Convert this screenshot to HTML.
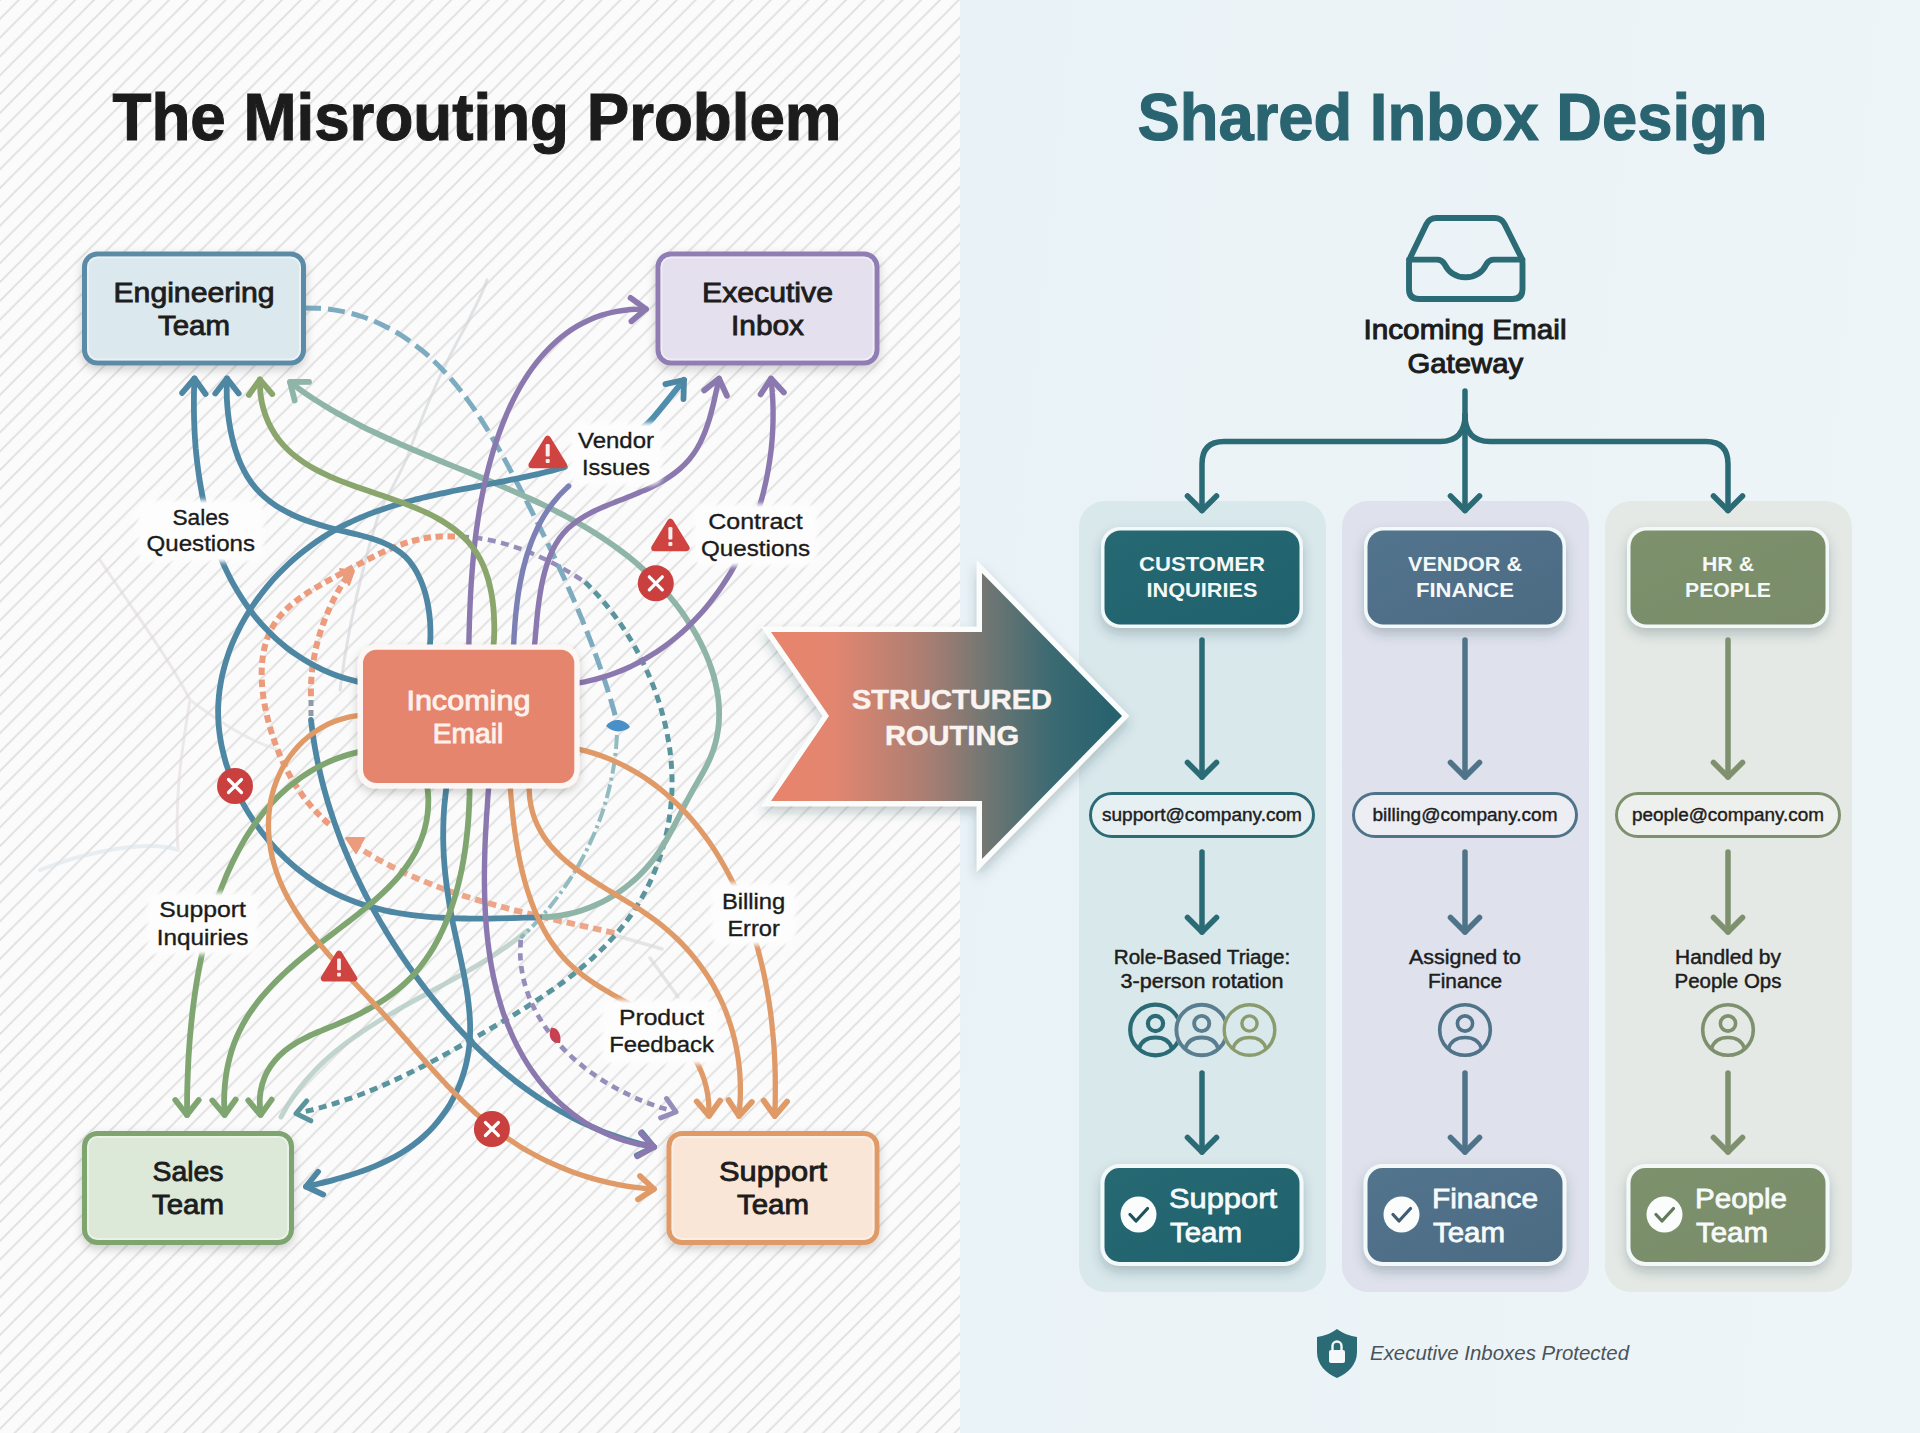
<!DOCTYPE html>
<html lang="en"><head><meta charset="utf-8"><title>Shared Inbox Design</title>
<style>html,body{margin:0;padding:0;background:#fafafa;}body{width:1920px;height:1433px;overflow:hidden;}svg{display:block;}</style>
</head><body>
<svg width="1920" height="1433" viewBox="0 0 1920 1433" font-family="'Liberation Sans', Arial, sans-serif">

<defs>
<pattern id="hatch" width="18.8" height="18.8" patternUnits="userSpaceOnUse">
  <rect width="18.8" height="18.8" fill="#fbfbfb"/>
  <path d="M-2,20.8 L20.8,-2 M-2,2 L2,-2 M16.8,20.8 L20.8,16.8" stroke="#e0e0e0" stroke-width="1.9" fill="none"/>
</pattern>
<linearGradient id="rbg" x1="0" y1="0" x2="1" y2="0.15">
  <stop offset="0" stop-color="#e9f2f6"/><stop offset="0.6" stop-color="#ebf3f7"/><stop offset="1" stop-color="#eef5f8"/>
</linearGradient>
<linearGradient id="arrowg" x1="771" y1="0" x2="1122" y2="0" gradientUnits="userSpaceOnUse">
  <stop offset="0" stop-color="#e8846c"/><stop offset="0.18" stop-color="#e28670"/><stop offset="0.45" stop-color="#a87e72"/><stop offset="0.62" stop-color="#6f7673"/><stop offset="0.8" stop-color="#3b6a72"/><stop offset="1" stop-color="#25616e"/>
</linearGradient>
<linearGradient id="tealg" x1="0" y1="0" x2="1" y2="1"><stop offset="0" stop-color="#266973"/><stop offset="1" stop-color="#1f616c"/></linearGradient>
<linearGradient id="slateg" x1="0" y1="0" x2="1" y2="1"><stop offset="0" stop-color="#52748c"/><stop offset="1" stop-color="#4b6b83"/></linearGradient>
<linearGradient id="oliveg" x1="0" y1="0" x2="1" y2="1"><stop offset="0" stop-color="#7d916d"/><stop offset="1" stop-color="#7a8c69"/></linearGradient>
<filter id="sh" x="-20%" y="-20%" width="140%" height="150%"><feDropShadow dx="0" dy="6" stdDeviation="6" flood-color="#1b3b4a" flood-opacity="0.25"/></filter>
<filter id="sh2" x="-20%" y="-20%" width="140%" height="150%"><feDropShadow dx="0" dy="4" stdDeviation="5" flood-color="#000" flood-opacity="0.18"/></filter>
<filter id="blur3"><feGaussianBlur stdDeviation="3"/></filter>
<filter id="blur2" x="-20%" y="-20%" width="140%" height="140%"><feGaussianBlur stdDeviation="2.2"/></filter>
<filter id="blur1"><feGaussianBlur stdDeviation="0.6"/></filter>
<marker id="mG2" markerUnits="userSpaceOnUse" markerWidth="45" markerHeight="45" refX="0" refY="0" orient="auto" overflow="visible" viewBox="-22.5 -22.5 45 45"><path d="M-15,-11.70 L0,0 L-15,11.70" fill="none" stroke="#8aa66c" stroke-width="5.8" stroke-linecap="round" stroke-linejoin="round"/></marker><marker id="mB" markerUnits="userSpaceOnUse" markerWidth="45" markerHeight="45" refX="0" refY="0" orient="auto" overflow="visible" viewBox="-22.5 -22.5 45 45"><path d="M-15,-11.70 L0,0 L-15,11.70" fill="none" stroke="#4e87a3" stroke-width="5.8" stroke-linecap="round" stroke-linejoin="round"/></marker><marker id="mP" markerUnits="userSpaceOnUse" markerWidth="45" markerHeight="45" refX="0" refY="0" orient="auto" overflow="visible" viewBox="-22.5 -22.5 45 45"><path d="M-15,-11.70 L0,0 L-15,11.70" fill="none" stroke="#8b78ae" stroke-width="5.8" stroke-linecap="round" stroke-linejoin="round"/></marker><marker id="mG" markerUnits="userSpaceOnUse" markerWidth="45" markerHeight="45" refX="0" refY="0" orient="auto" overflow="visible" viewBox="-22.5 -22.5 45 45"><path d="M-15,-11.70 L0,0 L-15,11.70" fill="none" stroke="#7fa670" stroke-width="5.8" stroke-linecap="round" stroke-linejoin="round"/></marker><marker id="mO" markerUnits="userSpaceOnUse" markerWidth="45" markerHeight="45" refX="0" refY="0" orient="auto" overflow="visible" viewBox="-22.5 -22.5 45 45"><path d="M-15,-11.70 L0,0 L-15,11.70" fill="none" stroke="#e09a68" stroke-width="5.8" stroke-linecap="round" stroke-linejoin="round"/></marker><marker id="mS" markerUnits="userSpaceOnUse" markerWidth="45" markerHeight="45" refX="0" refY="0" orient="auto" overflow="visible" viewBox="-22.5 -22.5 45 45"><path d="M-15,-11.70 L0,0 L-15,11.70" fill="none" stroke="#8fb5a8" stroke-width="5.8" stroke-linecap="round" stroke-linejoin="round"/></marker>
<marker id="mDT" markerUnits="userSpaceOnUse" markerWidth="39" markerHeight="39" refX="0" refY="0" orient="auto" overflow="visible" viewBox="-19.5 -19.5 39 39"><path d="M-13,-10.14 L0,0 L-13,10.14" fill="none" stroke="#5a959e" stroke-width="5" stroke-linecap="round" stroke-linejoin="round"/></marker><marker id="mDP" markerUnits="userSpaceOnUse" markerWidth="39" markerHeight="39" refX="0" refY="0" orient="auto" overflow="visible" viewBox="-19.5 -19.5 39 39"><path d="M-13,-10.14 L0,0 L-13,10.14" fill="none" stroke="#978dbb" stroke-width="5" stroke-linecap="round" stroke-linejoin="round"/></marker><marker id="mDO" markerUnits="userSpaceOnUse" markerWidth="27" markerHeight="27" refX="0" refY="0" orient="auto" overflow="visible" viewBox="-13.5 -13.5 27 27"><path d="M-9,-7.02 L0,0 L-9,7.02" fill="none" stroke="#ec9c7c" stroke-width="4" stroke-linecap="round" stroke-linejoin="round"/></marker>
<marker id="mT" markerUnits="userSpaceOnUse" markerWidth="43.5" markerHeight="43.5" refX="0" refY="0" orient="auto" overflow="visible" viewBox="-21.75 -21.75 43.5 43.5"><path d="M-14.5,-14.50 L0,0 L-14.5,14.50" fill="none" stroke="#2b6b76" stroke-width="5.6" stroke-linecap="round" stroke-linejoin="round"/></marker><marker id="mSL" markerUnits="userSpaceOnUse" markerWidth="43.5" markerHeight="43.5" refX="0" refY="0" orient="auto" overflow="visible" viewBox="-21.75 -21.75 43.5 43.5"><path d="M-14.5,-14.50 L0,0 L-14.5,14.50" fill="none" stroke="#4f7389" stroke-width="5.6" stroke-linecap="round" stroke-linejoin="round"/></marker><marker id="mOL" markerUnits="userSpaceOnUse" markerWidth="43.5" markerHeight="43.5" refX="0" refY="0" orient="auto" overflow="visible" viewBox="-21.75 -21.75 43.5 43.5"><path d="M-14.5,-14.50 L0,0 L-14.5,14.50" fill="none" stroke="#7e906e" stroke-width="5.6" stroke-linecap="round" stroke-linejoin="round"/></marker>
</defs>
<rect x="0" y="0" width="960" height="1433" fill="url(#hatch)"/>
<rect x="960" y="0" width="960" height="1433" fill="url(#rbg)"/>
<text x="477" y="140" font-size="66" font-weight="bold" fill="#1c1c1c" text-anchor="middle" textLength="729" lengthAdjust="spacingAndGlyphs"  style="stroke:#1c1c1c;stroke-width:1.1px">The Misrouting Problem</text>
<text x="1452.5" y="140" font-size="66" font-weight="bold" fill="#2a6470" text-anchor="middle" textLength="630" lengthAdjust="spacingAndGlyphs"  style="stroke:#2a6470;stroke-width:1.1px">Shared Inbox Design</text>
<g id="curves">
<g opacity="0.6" fill="none" stroke-linecap="round">
<path d="M487,280 C480,300 472,312 468,322 C455,345 445,365 436,385 C425,410 415,435 407,458 C397,480 388,495 380,510 C374,530 369,545 365,562 C355,600 345,650 340,690" stroke="#cfd3d7" stroke-width="3"/>
<path d="M100,560 C140,620 170,660 190,700 C180,760 175,800 178,850" stroke="#e3dcdc" stroke-width="3"/>
<path d="M40,870 C90,850 150,840 178,850" stroke="#dbe4ea" stroke-width="4"/>
<path d="M190,700 C230,730 260,745 280,750" stroke="#e4e0e0" stroke-width="3"/>
<path d="M614,935 L662,949 M650,958 L678,997" stroke="#d3d7da" stroke-width="3.5"/>
</g>
<path d="M527.0,931.0 C525.2,932.5 519.7,936.9 515.9,939.7 C512.2,942.5 508.4,945.3 504.5,948.0 C500.6,950.7 496.7,953.3 492.7,955.8 C488.8,958.4 484.8,960.9 480.7,963.4 C476.7,965.8 472.6,968.2 468.4,970.6 C464.3,973.0 460.2,975.4 456.0,977.7 C451.9,980.0 447.7,982.3 443.5,984.6 C439.3,986.9 435.1,989.2 430.9,991.5 C426.7,993.8 422.5,996.0 418.4,998.3 C414.2,1000.6 410.0,1002.9 405.8,1005.2 C401.7,1007.6 397.6,1009.9 393.5,1012.3 C389.4,1014.7 385.3,1017.1 381.2,1019.5 C377.2,1022.0 373.2,1024.5 369.3,1027.0 C365.3,1029.6 361.4,1032.2 357.6,1034.9 C353.7,1037.5 349.9,1040.3 346.2,1043.1 C342.5,1045.9 338.8,1048.8 335.2,1051.7 C331.7,1054.7 328.2,1057.8 324.7,1060.9 C321.3,1064.1 318.0,1067.3 314.7,1070.7 C311.5,1074.1 308.4,1077.5 305.3,1081.1 C302.3,1084.7 299.3,1088.4 296.5,1092.3 C293.7,1096.1 291.0,1100.1 288.4,1104.2 C285.8,1108.3 282.2,1114.9 281.0,1117.0" fill="none" stroke="#b3cbc3" stroke-width="5" stroke-linecap="round" stroke-linejoin="round" opacity="0.8" />
<path d="M455.0,536.5 C452.5,536.5 445.0,536.2 440.1,536.4 C435.3,536.7 430.6,537.2 425.9,538.0 C421.3,538.8 416.8,539.8 412.3,541.1 C407.8,542.3 403.4,543.8 399.0,545.4 C394.7,547.0 390.4,548.8 386.1,550.7 C381.8,552.5 377.5,554.6 373.3,556.7 C369.0,558.8 364.8,561.1 360.5,563.3 C356.2,565.6 351.9,567.9 347.6,570.2 C343.2,572.5 338.8,574.9 334.5,577.2 C330.1,579.6 325.7,582.0 321.4,584.5 C317.1,586.9 312.8,589.4 308.7,592.1 C304.7,594.7 300.7,597.4 296.9,600.3 C293.2,603.2 289.6,606.1 286.4,609.3 C283.1,612.5 280.0,615.8 277.4,619.4 C274.8,623.0 272.4,626.7 270.5,630.7 C268.5,634.7 266.9,638.9 265.7,643.2 C264.4,647.5 263.5,652.1 262.8,656.7 C262.2,661.3 261.8,666.1 261.7,670.9 C261.6,675.7 261.8,680.7 262.1,685.6 C262.5,690.5 263.1,695.6 263.9,700.5 C264.7,705.5 265.8,710.5 266.9,715.4 C268.0,720.4 269.4,725.3 270.8,730.1 C272.3,734.9 273.8,739.6 275.5,744.2 C277.2,748.8 279.0,753.3 280.9,757.7 C282.8,762.1 284.9,766.4 287.1,770.6 C289.3,774.7 291.6,778.8 294.0,782.8 C296.5,786.8 299.1,790.7 301.9,794.5 C304.6,798.3 307.5,802.0 310.6,805.6 C313.7,809.2 316.9,812.7 320.3,816.1 C323.7,819.5 329.2,824.3 331.0,826.0" fill="none" stroke="#ec9c7c" stroke-width="6" stroke-linecap="butt" stroke-linejoin="round" stroke-dasharray="7.500 4.500" />
<path d="M461.0,536.5 C463.5,536.7 470.9,537.2 475.8,537.8 C480.7,538.4 485.6,539.3 490.5,540.3 C495.3,541.3 500.1,542.5 504.8,543.8 C509.6,545.2 514.3,546.7 519.0,548.3 C523.6,550.0 528.3,551.8 532.8,553.7 C537.4,555.7 541.9,557.7 546.4,559.9 C550.8,562.1 555.3,564.3 559.6,566.7 C564.0,569.1 568.3,571.6 572.5,574.1 C576.7,576.7 582.9,580.7 585.0,582.0" fill="none" stroke="#978dbb" stroke-width="4.5" stroke-linecap="butt" stroke-linejoin="round" stroke-dasharray="8 5.5" />
<path d="M347.4,576.0 C346.1,578.1 342.1,584.2 339.7,588.4 C337.2,592.6 334.9,596.9 332.8,601.3 C330.6,605.7 328.6,610.1 326.7,614.6 C324.9,619.1 323.2,623.6 321.6,628.2 C320.1,632.8 318.7,637.5 317.4,642.2 C316.2,646.8 315.1,651.6 314.3,656.4 C313.4,661.1 312.6,665.9 312.1,670.8 C311.6,675.6 311.2,680.5 311.0,685.3 C310.8,690.2 311.0,697.6 311.0,700.0" fill="none" stroke="#ec9c7c" stroke-width="6" stroke-linecap="butt" stroke-linejoin="round" stroke-dasharray="7.500 4.500" />
<path d="M340,569 L354,571 L349,585 Z" fill="#ec9c7c" stroke="#ec9c7c" stroke-width="2" stroke-linejoin="round"/>
<path d="M311.0,700.0 C311.0,702.7 311.0,713.3 311.0,716.0" fill="none" stroke="#8f9aa8" stroke-width="5" stroke-linecap="butt" stroke-linejoin="round" stroke-dasharray="6 4" />
<path d="M614.5,933.0 C612.2,932.5 605.4,930.9 600.8,929.9 C596.2,928.9 591.6,927.9 587.0,926.9 C582.4,925.9 577.8,924.9 573.2,923.9 C568.6,922.8 564.0,921.8 559.4,920.8 C554.8,919.7 550.2,918.7 545.6,917.6 C540.9,916.6 536.3,915.5 531.7,914.4 C527.1,913.3 522.5,912.2 517.9,911.1 C513.3,909.9 508.7,908.7 504.2,907.5 C499.6,906.3 495.0,905.1 490.5,903.8 C485.9,902.6 481.4,901.2 476.9,899.9 C472.4,898.5 467.8,897.1 463.4,895.7 C458.9,894.2 454.4,892.8 450.0,891.2 C445.5,889.7 441.1,888.1 436.7,886.4 C432.3,884.7 427.9,883.0 423.6,881.2 C419.2,879.4 414.9,877.6 410.6,875.7 C406.3,873.8 402.1,871.8 397.9,869.7 C393.6,867.6 389.5,865.5 385.3,863.3 C381.2,861.1 377.0,858.8 373.0,856.4 C368.9,854.0 364.8,851.5 360.9,849.0 C356.9,846.4 351.0,842.3 349.0,841.0" fill="none" stroke="#ec9c7c" stroke-width="5.8" stroke-linecap="butt" stroke-linejoin="round" stroke-dasharray="8.500 5" opacity="0.9" />
<path d="M346,838 L364,838 L356,853 Z" fill="#ec9c7c" stroke="#ec9c7c" stroke-width="2" stroke-linejoin="round"/>
<path d="M304.0,308.0 C306.5,308.0 314.2,308.0 319.2,308.3 C324.2,308.6 329.1,309.1 333.9,309.9 C338.7,310.6 343.5,311.5 348.1,312.6 C352.7,313.7 357.3,315.0 361.7,316.5 C366.2,318.0 370.5,319.6 374.8,321.5 C379.1,323.3 383.3,325.3 387.4,327.4 C391.5,329.5 395.5,331.8 399.4,334.2 C403.3,336.6 407.1,339.2 410.9,341.9 C414.6,344.6 418.2,347.4 421.8,350.3 C425.4,353.2 428.8,356.3 432.2,359.4 C435.6,362.6 438.9,365.8 442.1,369.2 C445.3,372.5 448.4,375.9 451.4,379.4 C454.4,382.9 457.4,386.5 460.3,390.2 C463.2,393.9 466.0,397.6 468.7,401.4 C471.5,405.2 474.2,409.1 476.8,413.0 C479.4,416.9 482.0,420.9 484.5,424.9 C487.0,429.0 489.5,433.0 491.9,437.1 C494.4,441.2 496.7,445.4 499.1,449.6 C501.5,453.7 503.8,457.9 506.1,462.1 C508.3,466.3 510.6,470.6 512.8,474.8 C515.1,479.1 517.3,483.3 519.5,487.5 C521.7,491.8 523.9,496.0 526.1,500.3 C528.3,504.5 530.4,508.8 532.6,513.0 C534.7,517.3 536.9,521.5 539.0,525.7 C541.1,530.0 543.2,534.2 545.3,538.5 C547.4,542.7 549.5,547.0 551.5,551.2 C553.5,555.5 555.6,559.7 557.6,564.0 C559.6,568.3 561.6,572.5 563.5,576.8 C565.5,581.1 567.4,585.4 569.3,589.7 C571.2,593.9 573.1,598.2 574.9,602.6 C576.8,606.9 578.6,611.2 580.4,615.5 C582.2,619.8 584.0,624.2 585.7,628.5 C587.4,632.9 589.1,637.2 590.8,641.6 C592.5,646.0 594.1,650.4 595.7,654.8 C597.3,659.2 598.9,663.6 600.4,668.0 C602.0,672.4 603.5,676.9 604.9,681.3 C606.4,685.8 607.8,690.3 609.2,694.8 C610.6,699.3 611.9,703.8 613.2,708.3 C614.5,712.9 616.4,719.7 617.0,722.0" fill="none" stroke="#7dabc0" stroke-width="5" stroke-linecap="butt" stroke-linejoin="round" stroke-dasharray="17 7" />
<path d="M617.0,735.0 C616.8,737.4 616.4,744.7 615.9,749.6 C615.4,754.4 614.8,759.2 614.1,763.9 C613.4,768.7 612.5,773.4 611.5,778.1 C610.6,782.8 609.5,787.5 608.3,792.1 C607.1,796.8 605.8,801.4 604.4,805.9 C603.0,810.5 601.5,815.0 599.8,819.5 C598.2,823.9 596.5,828.4 594.6,832.8 C592.8,837.1 590.8,841.5 588.7,845.8 C586.7,850.1 584.5,854.3 582.3,858.5 C580.0,862.7 577.6,866.8 575.2,870.9 C572.7,875.0 570.1,879.0 567.5,883.0 C564.8,887.0 562.1,890.9 559.2,894.8 C556.4,898.6 553.4,902.4 550.4,906.2 C547.4,909.9 544.2,913.6 541.0,917.2 C537.8,920.8 534.5,924.3 531.1,927.8 C527.7,931.3 522.4,936.3 520.7,938.0" fill="none" stroke="#86b5b8" stroke-width="4" stroke-linecap="butt" stroke-linejoin="round" stroke-dasharray="14 4 3 4" opacity="0.9" />
<path d="M585.0,582.0 C586.6,583.6 591.4,588.3 594.5,591.6 C597.6,594.9 600.7,598.3 603.6,601.8 C606.6,605.3 609.5,609.0 612.3,612.7 C615.2,616.4 617.9,620.2 620.6,624.0 C623.2,627.9 625.8,631.9 628.3,635.9 C630.8,639.9 633.2,644.0 635.6,648.2 C637.9,652.4 640.1,656.6 642.2,660.9 C644.3,665.2 646.4,669.6 648.3,674.0 C650.2,678.4 652.1,682.9 653.8,687.4 C655.5,691.9 657.1,696.4 658.6,701.0 C660.1,705.6 661.5,710.2 662.7,714.8 C664.0,719.5 665.1,724.1 666.1,728.8 C667.1,733.5 668.0,738.2 668.8,742.9 C669.6,747.6 670.2,752.3 670.7,757.0 C671.2,761.7 671.5,766.5 671.8,771.2 C672.0,775.9 672.1,780.6 672.0,785.3 C672.0,790.0 671.8,794.7 671.4,799.3 C671.1,804.0 670.6,808.6 670.0,813.2 C669.4,817.8 668.7,822.4 667.8,827.0 C667.0,831.5 665.9,836.0 664.8,840.5 C663.7,845.0 662.4,849.4 661.0,853.8 C659.6,858.2 658.1,862.5 656.5,866.8 C654.8,871.1 653.1,875.3 651.2,879.5 C649.3,883.7 647.2,887.8 645.1,891.9 C642.9,895.9 640.7,899.9 638.3,903.8 C635.9,907.7 633.4,911.6 630.8,915.3 C628.1,919.1 625.4,922.7 622.5,926.3 C619.7,929.9 616.7,933.5 613.6,936.9 C610.5,940.3 607.4,943.7 604.1,947.0 C600.8,950.3 597.4,953.5 594.0,956.7 C590.6,959.9 587.0,963.0 583.4,966.0 C579.8,969.1 576.2,972.0 572.4,975.0 C568.7,977.9 564.9,980.8 561.0,983.6 C557.2,986.4 553.3,989.2 549.3,991.9 C545.4,994.6 541.4,997.3 537.4,999.9 C533.4,1002.6 529.3,1005.2 525.2,1007.8 C521.1,1010.3 517.0,1012.9 512.9,1015.4 C508.8,1017.9 504.7,1020.3 500.5,1022.8 C496.4,1025.2 492.3,1027.6 488.1,1030.0 C484.0,1032.4 479.9,1034.8 475.8,1037.2 C471.6,1039.5 467.6,1041.9 463.5,1044.2 C459.4,1046.5 455.3,1048.8 451.2,1051.1 C447.1,1053.3 443.0,1055.6 439.0,1057.8 C434.9,1060.0 430.8,1062.2 426.7,1064.3 C422.6,1066.4 418.5,1068.6 414.4,1070.6 C410.2,1072.7 406.1,1074.7 402.0,1076.7 C397.8,1078.7 393.6,1080.6 389.4,1082.5 C385.2,1084.4 381.0,1086.2 376.8,1088.0 C372.5,1089.8 368.2,1091.5 363.9,1093.2 C359.6,1094.9 355.3,1096.5 350.9,1098.1 C346.5,1099.6 342.1,1101.1 337.6,1102.5 C333.1,1104.0 328.6,1105.3 324.0,1106.6 C319.5,1107.9 314.9,1109.1 310.2,1110.3 C305.5,1111.4 298.4,1113.0 296.0,1113.5" fill="none" stroke="#5a959e" stroke-width="5" stroke-linecap="butt" stroke-linejoin="round" marker-end="url(#mDT)" stroke-dasharray="8 5.500" />
<path d="M539.0,917.4 C541.4,917.2 548.8,917.0 553.6,916.5 C558.4,915.9 563.1,915.2 567.8,914.1 C572.4,913.1 577.0,911.9 581.5,910.4 C586.0,909.0 590.5,907.3 594.8,905.4 C599.1,903.5 603.3,901.4 607.4,899.2 C611.5,896.9 615.4,894.4 619.3,891.8 C623.1,889.2 626.9,886.4 630.4,883.4 C634.0,880.4 637.5,877.3 640.7,874.0 C644.0,870.7 647.1,867.3 650.1,863.7 C653.0,860.2 655.8,856.4 658.4,852.6 C661.1,848.8 663.5,844.8 665.8,840.8 C668.2,836.8 670.4,832.7 672.7,828.5 C674.9,824.3 677.0,820.0 679.3,815.8 C681.5,811.5 683.6,807.1 685.9,802.8 C688.2,798.5 690.6,794.1 693.0,789.8 C695.4,785.5 698.1,781.2 700.6,776.8 C703.0,772.5 705.5,768.2 707.6,763.8 C709.7,759.4 711.6,755.0 713.1,750.6 C714.7,746.1 715.9,741.6 716.8,737.1 C717.7,732.6 718.4,728.1 718.8,723.6 C719.1,719.0 719.2,714.5 719.1,709.9 C719.0,705.4 718.6,700.8 718.0,696.3 C717.3,691.7 716.5,687.2 715.4,682.7 C714.4,678.2 713.1,673.7 711.6,669.3 C710.2,664.8 708.5,660.4 706.7,656.0 C704.9,651.7 702.9,647.4 700.7,643.1 C698.6,638.8 696.2,634.6 693.8,630.5 C691.4,626.4 688.8,622.3 686.1,618.3 C683.4,614.3 680.6,610.4 677.7,606.6 C674.8,602.8 671.8,599.1 668.7,595.4 C665.6,591.8 662.5,588.3 659.2,584.9 C656.0,581.5 652.7,578.2 649.3,574.9 C646.0,571.7 642.5,568.6 639.0,565.5 C635.5,562.4 631.9,559.5 628.3,556.6 C624.7,553.7 621.0,550.9 617.2,548.1 C613.5,545.4 609.7,542.7 605.8,540.1 C602.0,537.5 598.1,535.0 594.1,532.5 C590.2,530.1 586.2,527.7 582.1,525.3 C578.1,523.0 574.0,520.7 569.9,518.4 C565.7,516.2 561.6,514.0 557.4,511.9 C553.2,509.7 549.0,507.6 544.7,505.5 C540.4,503.5 536.1,501.5 531.8,499.5 C527.5,497.5 523.2,495.5 518.8,493.6 C514.5,491.6 510.1,489.7 505.7,487.8 C501.3,486.0 496.9,484.1 492.5,482.3 C488.1,480.4 483.6,478.6 479.2,476.8 C474.8,474.9 470.3,473.1 465.9,471.3 C461.4,469.5 457.0,467.7 452.5,465.9 C448.1,464.1 443.6,462.3 439.2,460.5 C434.8,458.7 430.3,456.8 425.9,455.0 C421.5,453.2 417.1,451.3 412.7,449.5 C408.3,447.6 403.9,445.7 399.5,443.8 C395.2,441.9 390.8,440.0 386.5,438.0 C382.2,436.0 377.9,434.0 373.7,432.0 C369.4,430.0 365.2,427.9 361.0,425.8 C356.8,423.7 352.6,421.5 348.5,419.3 C344.4,417.1 340.3,414.9 336.2,412.6 C332.2,410.3 328.2,407.9 324.2,405.5 C320.3,403.1 316.4,400.6 312.5,398.1 C308.6,395.5 304.8,392.9 301.1,390.3 C297.3,387.6 291.8,383.4 290.0,382.0" fill="none" stroke="#8fb5a8" stroke-width="5.8" stroke-linecap="round" stroke-linejoin="round" marker-end="url(#mS)" />
<path d="M565.0,467.0 C562.8,467.6 556.3,469.4 552.0,470.6 C547.6,471.7 543.1,472.8 538.7,473.9 C534.2,474.9 529.7,475.9 525.1,476.9 C520.6,477.9 516.0,478.8 511.4,479.7 C506.8,480.6 502.2,481.5 497.6,482.4 C492.9,483.3 488.3,484.2 483.6,485.1 C479.0,486.0 474.3,486.9 469.6,487.8 C464.9,488.7 460.3,489.6 455.6,490.5 C450.9,491.5 446.2,492.4 441.6,493.4 C436.9,494.4 432.2,495.5 427.6,496.6 C423.0,497.7 418.3,498.8 413.7,500.0 C409.1,501.2 404.6,502.4 400.0,503.7 C395.5,505.1 390.9,506.5 386.4,507.9 C382.0,509.4 377.5,511.0 373.1,512.6 C368.7,514.3 364.3,516.0 360.0,517.8 C355.7,519.7 351.4,521.6 347.2,523.7 C343.0,525.8 338.8,527.9 334.7,530.3 C330.6,532.6 326.6,535.0 322.6,537.5 C318.6,540.1 314.7,542.8 310.9,545.6 C307.1,548.4 303.3,551.3 299.7,554.3 C296.0,557.3 292.4,560.4 288.9,563.6 C285.5,566.8 282.1,570.2 278.8,573.6 C275.5,577.0 272.3,580.5 269.2,584.1 C266.2,587.7 263.2,591.3 260.4,595.1 C257.5,598.8 254.8,602.6 252.2,606.5 C249.6,610.4 247.1,614.4 244.8,618.4 C242.4,622.4 240.2,626.5 238.2,630.7 C236.1,634.8 234.2,639.0 232.4,643.2 C230.6,647.5 229.0,651.8 227.6,656.1 C226.1,660.4 224.8,664.8 223.7,669.2 C222.5,673.6 221.5,678.0 220.8,682.5 C220.0,687.0 219.3,691.4 218.9,695.9 C218.5,700.4 218.2,705.0 218.1,709.5 C218.1,714.0 218.2,718.6 218.5,723.1 C218.8,727.6 219.3,732.2 220.0,736.7 C220.7,741.2 221.5,745.8 222.6,750.3 C223.6,754.7 224.8,759.2 226.1,763.7 C227.5,768.1 229.0,772.5 230.7,776.9 C232.3,781.3 234.2,785.6 236.1,789.9 C238.1,794.1 240.2,798.4 242.5,802.5 C244.7,806.7 247.2,810.8 249.7,814.8 C252.2,818.8 254.9,822.7 257.7,826.6 C260.4,830.5 263.3,834.2 266.4,837.9 C269.4,841.6 272.5,845.2 275.8,848.7 C279.0,852.1 282.4,855.5 285.9,858.8 C289.3,862.0 292.9,865.2 296.5,868.2 C300.2,871.2 303.9,874.1 307.8,876.8 C311.6,879.6 315.5,882.2 319.5,884.7 C323.5,887.1 327.6,889.4 331.7,891.6 C335.9,893.8 340.1,895.7 344.4,897.6 C348.6,899.4 353.0,901.1 357.4,902.7 C361.8,904.2 366.2,905.6 370.7,906.9 C375.2,908.1 379.8,909.3 384.4,910.3 C388.9,911.3 393.6,912.2 398.2,913.0 C402.9,913.8 407.6,914.5 412.3,915.1 C417.0,915.7 421.7,916.2 426.4,916.6 C431.2,917.1 436.0,917.4 440.7,917.7 C445.5,918.0 450.3,918.2 455.0,918.3 C459.8,918.5 464.6,918.5 469.3,918.6 C474.1,918.6 478.8,918.6 483.6,918.6 C488.3,918.6 493.0,918.5 497.7,918.4 C502.4,918.3 507.1,918.2 511.7,918.1 C516.3,918.0 520.9,917.9 525.5,917.7 C530.0,917.6 536.7,917.5 539.0,917.4" fill="none" stroke="#4e87a3" stroke-width="5.8" stroke-linecap="round" stroke-linejoin="round" />
<path d="M363.0,683.0 C360.6,682.4 353.2,680.7 348.4,679.3 C343.7,677.9 339.0,676.4 334.5,674.7 C330.0,673.0 325.6,671.1 321.3,669.1 C317.0,667.0 312.8,664.9 308.8,662.6 C304.7,660.3 300.8,657.8 297.0,655.2 C293.1,652.6 289.4,649.9 285.8,647.1 C282.3,644.2 278.8,641.3 275.4,638.2 C272.0,635.1 268.8,631.9 265.7,628.6 C262.5,625.3 259.5,621.9 256.6,618.4 C253.7,614.8 250.9,611.2 248.2,607.5 C245.5,603.8 242.9,600.0 240.5,596.1 C238.0,592.2 235.7,588.3 233.4,584.2 C231.2,580.2 229.1,576.0 227.1,571.9 C225.0,567.7 223.1,563.4 221.3,559.1 C219.5,554.8 217.8,550.4 216.2,546.0 C214.6,541.6 213.1,537.1 211.7,532.6 C210.3,528.0 209.0,523.5 207.7,518.9 C206.5,514.3 205.4,509.6 204.3,505.0 C203.3,500.3 202.3,495.6 201.5,490.9 C200.6,486.2 199.8,481.5 199.1,476.8 C198.4,472.0 197.8,467.3 197.2,462.5 C196.6,457.8 196.2,453.0 195.7,448.3 C195.3,443.5 195.0,438.8 194.7,434.1 C194.5,429.3 194.3,424.6 194.1,419.9 C194.0,415.2 193.9,410.6 193.9,405.9 C193.9,401.3 193.9,396.7 194.0,392.1 C194.1,387.5 194.4,380.8 194.5,378.5" fill="none" stroke="#4e87a3" stroke-width="5.8" stroke-linecap="round" stroke-linejoin="round" marker-end="url(#mB)" />
<path d="M429.5,651.0 C429.7,648.6 430.3,641.6 430.4,636.7 C430.5,631.9 430.4,626.8 430.1,621.9 C429.7,616.9 429.1,611.9 428.3,607.0 C427.5,602.1 426.4,597.2 425.1,592.6 C423.7,587.9 422.1,583.3 420.2,579.1 C418.3,574.8 416.1,570.7 413.6,566.9 C411.2,563.2 408.4,559.7 405.3,556.7 C402.1,553.7 398.7,551.0 395.0,548.7 C391.3,546.4 387.3,544.4 383.1,542.6 C379.0,540.9 374.5,539.4 370.0,538.0 C365.6,536.6 360.9,535.5 356.2,534.3 C351.5,533.1 346.7,532.0 341.9,530.9 C337.2,529.7 332.4,528.6 327.7,527.3 C323.0,526.0 318.3,524.6 313.8,523.1 C309.2,521.6 304.7,520.0 300.4,518.2 C296.0,516.5 291.7,514.6 287.7,512.4 C283.6,510.3 279.6,508.1 275.8,505.6 C272.0,503.1 268.4,500.4 265.0,497.4 C261.6,494.5 258.4,491.3 255.5,487.8 C252.5,484.4 249.8,480.6 247.3,476.6 C244.9,472.6 242.7,468.3 240.7,463.9 C238.7,459.4 237.0,454.7 235.5,450.0 C234.0,445.2 232.7,440.3 231.6,435.3 C230.5,430.4 229.6,425.4 228.9,420.4 C228.2,415.5 227.7,410.5 227.3,405.7 C226.9,400.9 226.7,396.1 226.7,391.6 C226.7,387.0 227.0,380.7 227.0,378.5" fill="none" stroke="#4e87a3" stroke-width="5.8" stroke-linecap="round" stroke-linejoin="round" marker-end="url(#mB)" />
<path d="M311.0,720.0 C311.3,722.3 312.1,729.2 312.7,733.8 C313.4,738.4 314.1,743.0 314.9,747.6 C315.7,752.2 316.6,756.8 317.5,761.3 C318.5,765.9 319.5,770.5 320.6,775.0 C321.6,779.5 322.8,784.1 324.0,788.6 C325.2,793.1 326.5,797.6 327.8,802.1 C329.2,806.6 330.6,811.1 332.1,815.5 C333.5,820.0 335.1,824.4 336.7,828.8 C338.3,833.3 339.9,837.7 341.6,842.1 C343.4,846.5 345.1,850.8 347.0,855.2 C348.8,859.5 350.7,863.9 352.7,868.2 C354.6,872.5 356.6,876.8 358.7,881.1 C360.7,885.3 362.8,889.6 365.0,893.8 C367.2,898.0 369.4,902.3 371.7,906.4 C374.0,910.6 376.3,914.8 378.7,918.9 C381.0,923.0 383.5,927.1 385.9,931.2 C388.4,935.3 390.9,939.3 393.5,943.4 C396.1,947.4 398.7,951.4 401.3,955.3 C404.0,959.3 406.7,963.2 409.4,967.1 C412.2,971.0 415.0,974.9 417.8,978.8 C420.6,982.6 423.5,986.4 426.4,990.2 C429.3,994.0 432.3,997.7 435.3,1001.4 C438.3,1005.1 441.3,1008.8 444.4,1012.4 C447.5,1016.0 450.6,1019.6 453.8,1023.1 C457.0,1026.7 460.2,1030.1 463.4,1033.6 C466.7,1037.0 470.0,1040.4 473.3,1043.7 C476.7,1047.1 480.0,1050.4 483.5,1053.6 C486.9,1056.8 490.4,1060.0 493.9,1063.1 C497.4,1066.2 501.0,1069.3 504.6,1072.3 C508.2,1075.3 511.8,1078.2 515.5,1081.1 C519.2,1083.9 522.9,1086.7 526.7,1089.4 C530.5,1092.2 534.3,1094.8 538.2,1097.4 C542.1,1100.0 546.0,1102.5 550.0,1104.9 C553.9,1107.4 557.9,1109.7 562.0,1112.0 C566.0,1114.3 570.1,1116.5 574.3,1118.6 C578.4,1120.7 582.6,1122.8 586.9,1124.7 C591.1,1126.7 595.4,1128.5 599.7,1130.3 C604.1,1132.1 608.4,1133.7 612.9,1135.3 C617.3,1136.9 621.8,1138.4 626.3,1139.8 C630.8,1141.2 635.4,1142.5 640.0,1143.7 C644.6,1144.9 651.7,1146.5 654.0,1147.0" fill="none" stroke="#4e87a3" stroke-width="5.8" stroke-linecap="round" stroke-linejoin="round" marker-end="url(#mB)" />
<path d="M447.0,783.0 C446.7,785.4 445.7,792.7 445.2,797.6 C444.6,802.4 444.2,807.1 443.9,811.9 C443.6,816.7 443.4,821.4 443.3,826.1 C443.2,830.8 443.2,835.5 443.2,840.1 C443.3,844.8 443.5,849.4 443.7,854.1 C444.0,858.7 444.3,863.4 444.7,868.0 C445.1,872.7 445.6,877.3 446.2,881.9 C446.7,886.6 447.4,891.2 448.1,895.9 C448.8,900.6 449.6,905.2 450.4,909.9 C451.2,914.6 452.2,919.3 453.1,924.1 C454.1,928.8 455.1,933.6 456.2,938.4 C457.2,943.1 458.3,947.9 459.3,952.7 C460.4,957.5 461.4,962.4 462.4,967.2 C463.4,972.0 464.4,976.8 465.2,981.6 C466.1,986.4 466.9,991.2 467.6,996.0 C468.2,1000.8 468.8,1005.6 469.2,1010.3 C469.7,1015.1 470.0,1019.8 470.1,1024.5 C470.2,1029.2 470.1,1033.9 469.9,1038.6 C469.6,1043.2 469.1,1047.8 468.4,1052.4 C467.7,1056.9 466.8,1061.5 465.7,1065.9 C464.6,1070.4 463.2,1074.8 461.7,1079.1 C460.2,1083.4 458.5,1087.6 456.5,1091.8 C454.6,1095.9 452.5,1099.9 450.2,1103.9 C447.8,1107.8 445.3,1111.6 442.6,1115.3 C439.9,1119.0 437.0,1122.6 433.9,1126.1 C430.9,1129.5 427.6,1132.8 424.1,1136.0 C420.7,1139.1 417.1,1142.1 413.3,1144.9 C409.5,1147.8 405.5,1150.4 401.3,1152.9 C397.2,1155.4 392.9,1157.8 388.5,1159.9 C384.2,1162.1 379.6,1164.2 375.1,1166.1 C370.5,1168.0 365.9,1169.8 361.2,1171.4 C356.6,1173.1 351.9,1174.6 347.2,1176.1 C342.5,1177.5 337.8,1178.8 333.1,1180.1 C328.5,1181.3 323.9,1182.4 319.3,1183.5 C314.8,1184.6 308.2,1186.0 306.0,1186.5" fill="none" stroke="#4e87a3" stroke-width="5.8" stroke-linecap="round" stroke-linejoin="round" marker-end="url(#mB)" />
<path d="M640.0,430.0 C642.2,428.0 645.7,426.3 653.0,418.0 C660.3,409.7 678.8,386.3 684.0,380.0" fill="none" stroke="#4f8fad" stroke-width="6" stroke-linecap="round" stroke-linejoin="round" marker-end="url(#mB)" />
<path d="M468.8,651.0 C468.8,648.7 468.9,641.9 469.0,637.3 C469.1,632.7 469.3,628.1 469.4,623.5 C469.5,618.8 469.7,614.2 469.9,609.5 C470.1,604.8 470.3,600.1 470.5,595.3 C470.8,590.6 471.1,585.8 471.4,581.1 C471.7,576.3 472.1,571.5 472.5,566.7 C472.9,561.9 473.3,557.1 473.8,552.3 C474.3,547.5 474.8,542.7 475.4,537.9 C476.0,533.1 476.6,528.3 477.4,523.5 C478.1,518.7 478.8,513.9 479.6,509.1 C480.5,504.3 481.4,499.5 482.3,494.7 C483.3,489.9 484.3,485.1 485.4,480.4 C486.5,475.6 487.7,470.9 488.9,466.2 C490.2,461.5 491.5,456.8 492.9,452.1 C494.3,447.4 495.8,442.8 497.4,438.2 C499.0,433.6 500.7,429.0 502.4,424.5 C504.2,419.9 506.0,415.4 508.0,411.0 C510.0,406.6 512.0,402.3 514.2,398.0 C516.4,393.8 518.6,389.6 521.0,385.5 C523.4,381.4 525.9,377.5 528.5,373.6 C531.1,369.7 533.8,366.0 536.6,362.4 C539.4,358.8 542.4,355.3 545.5,352.0 C548.6,348.6 551.8,345.4 555.1,342.4 C558.4,339.4 561.9,336.6 565.5,333.9 C569.1,331.2 572.8,328.7 576.7,326.4 C580.6,324.2 584.6,322.1 588.7,320.2 C592.9,318.3 597.2,316.6 601.7,315.2 C606.1,313.8 610.7,312.6 615.5,311.6 C620.3,310.7 625.2,310.0 630.3,309.5 C635.4,309.1 643.4,309.1 646.0,309.0" fill="none" stroke="#8b78ae" stroke-width="5.4" stroke-linecap="round" stroke-linejoin="round" marker-end="url(#mP)" />
<path d="M513.4,651.0 C513.5,648.6 513.8,641.4 514.1,636.5 C514.4,631.6 514.7,626.6 515.1,621.7 C515.5,616.7 516.0,611.7 516.6,606.7 C517.2,601.7 517.9,596.7 518.6,591.7 C519.4,586.8 520.3,581.8 521.4,576.8 C522.4,571.9 523.5,567.0 524.9,562.2 C526.2,557.3 527.6,552.6 529.3,547.9 C530.9,543.2 532.7,538.5 534.7,534.0 C536.7,529.5 538.8,525.1 541.2,520.8 C543.6,516.5 546.2,512.3 549.0,508.3 C551.8,504.3 554.8,500.4 558.1,496.7 C561.4,492.9 566.9,487.8 568.7,486.0" fill="none" stroke="#7d80b4" stroke-width="5.4" stroke-linecap="round" stroke-linejoin="round" />
<path d="M534.0,651.0 C534.2,648.9 534.8,642.7 535.2,638.3 C535.6,633.8 536.0,629.1 536.4,624.3 C536.9,619.5 537.3,614.5 537.9,609.5 C538.5,604.5 539.2,599.4 540.0,594.3 C540.8,589.3 541.7,584.2 542.9,579.2 C544.0,574.3 545.3,569.3 546.9,564.6 C548.4,559.9 550.1,555.3 552.2,551.0 C554.2,546.7 556.5,542.6 559.1,538.8 C561.8,535.0 564.7,531.6 568.0,528.4 C571.2,525.3 574.9,522.5 578.7,519.9 C582.4,517.3 586.5,515.0 590.7,512.8 C594.9,510.6 599.3,508.7 603.7,506.8 C608.2,504.8 612.7,503.1 617.3,501.3 C621.8,499.5 626.4,497.8 630.9,496.0 C635.4,494.2 639.9,492.4 644.2,490.4 C648.6,488.5 652.8,486.5 656.9,484.3 C661.0,482.1 665.0,479.8 668.8,477.2 C672.6,474.7 676.2,472.0 679.6,469.1 C683.0,466.1 686.2,462.9 689.2,459.4 C692.2,455.9 694.9,452.1 697.3,448.0 C699.8,443.9 701.9,439.4 703.8,434.8 C705.8,430.2 707.4,425.2 709.0,420.3 C710.5,415.4 711.8,410.3 713.0,405.5 C714.2,400.7 715.2,395.8 716.2,391.3 C717.2,386.8 718.5,380.6 719.0,378.5" fill="none" stroke="#8b78ae" stroke-width="5.4" stroke-linecap="round" stroke-linejoin="round" marker-end="url(#mP)" />
<path d="M573.0,684.0 C575.5,683.5 583.0,682.3 587.8,681.2 C592.7,680.1 597.4,678.8 602.1,677.4 C606.8,676.0 611.4,674.4 615.9,672.7 C620.4,671.0 624.8,669.2 629.1,667.2 C633.4,665.2 637.6,663.0 641.8,660.8 C645.9,658.5 650.0,656.1 653.9,653.6 C657.9,651.1 661.7,648.4 665.5,645.7 C669.3,642.9 672.9,640.0 676.5,637.0 C680.1,634.0 683.6,630.9 687.0,627.7 C690.4,624.5 693.7,621.1 696.9,617.7 C700.1,614.3 703.2,610.8 706.2,607.2 C709.2,603.6 712.1,599.9 714.9,596.1 C717.8,592.3 720.5,588.5 723.1,584.5 C725.7,580.6 728.2,576.6 730.7,572.5 C733.1,568.4 735.4,564.2 737.6,560.0 C739.8,555.8 742.0,551.5 744.0,547.2 C746.0,542.8 747.9,538.4 749.7,534.0 C751.5,529.5 753.3,525.0 754.9,520.5 C756.5,516.0 758.0,511.4 759.4,506.8 C760.8,502.2 762.1,497.5 763.3,492.8 C764.4,488.1 765.5,483.4 766.5,478.7 C767.5,474.0 768.3,469.2 769.1,464.4 C769.9,459.7 770.5,454.9 771.1,450.1 C771.6,445.3 772.1,440.5 772.4,435.7 C772.7,430.9 772.9,426.1 773.0,421.3 C773.1,416.5 773.1,411.7 773.0,407.0 C772.9,402.2 772.7,397.4 772.3,392.7 C772.0,387.9 771.2,380.9 771.0,378.5" fill="none" stroke="#8b78ae" stroke-width="5.4" stroke-linecap="round" stroke-linejoin="round" marker-end="url(#mP)" />
<path d="M489.0,783.0 C488.8,785.3 488.3,792.0 487.9,796.6 C487.6,801.1 487.3,805.7 487.0,810.4 C486.6,815.0 486.3,819.7 486.1,824.5 C485.8,829.2 485.6,834.0 485.3,838.8 C485.1,843.5 484.9,848.4 484.8,853.2 C484.7,858.0 484.5,862.9 484.5,867.8 C484.4,872.7 484.4,877.5 484.4,882.4 C484.5,887.3 484.6,892.2 484.7,897.1 C484.9,902.1 485.1,907.0 485.3,911.9 C485.6,916.8 485.9,921.7 486.3,926.5 C486.8,931.4 487.2,936.3 487.8,941.2 C488.4,946.0 489.0,950.8 489.7,955.7 C490.4,960.5 491.2,965.3 492.1,970.0 C493.0,974.8 494.0,979.5 495.1,984.2 C496.2,988.8 497.4,993.5 498.7,998.1 C500.0,1002.7 501.4,1007.3 502.9,1011.8 C504.4,1016.3 506.1,1020.7 507.8,1025.1 C509.6,1029.5 511.4,1033.9 513.4,1038.1 C515.4,1042.4 517.5,1046.6 519.8,1050.8 C522.0,1054.9 524.3,1058.9 526.8,1062.9 C529.3,1066.9 531.9,1070.8 534.7,1074.5 C537.4,1078.3 540.2,1082.0 543.2,1085.6 C546.2,1089.1 549.3,1092.6 552.5,1095.9 C555.8,1099.3 559.1,1102.5 562.6,1105.6 C566.1,1108.6 569.7,1111.6 573.4,1114.4 C577.1,1117.2 581.0,1119.9 584.9,1122.4 C588.9,1124.9 593.0,1127.2 597.3,1129.4 C601.5,1131.6 605.8,1133.6 610.3,1135.5 C614.8,1137.3 619.4,1139.0 624.1,1140.5 C628.8,1141.9 633.7,1143.2 638.7,1144.3 C643.7,1145.4 651.4,1146.6 654.0,1147.0" fill="none" stroke="#8b78ae" stroke-width="5.4" stroke-linecap="round" stroke-linejoin="round" marker-end="url(#mP)" />
<path d="M520.7,940.0 C520.6,942.6 520.2,950.3 520.3,955.4 C520.5,960.4 521.0,965.3 521.8,970.2 C522.5,975.0 523.6,979.8 524.9,984.5 C526.2,989.1 527.8,993.7 529.5,998.1 C531.3,1002.6 533.4,1007.0 535.6,1011.2 C537.9,1015.5 540.4,1019.6 543.0,1023.7 C545.7,1027.7 548.5,1031.6 551.6,1035.4 C554.6,1039.3 557.8,1043.0 561.2,1046.5 C564.6,1050.1 568.1,1053.6 571.8,1056.9 C575.5,1060.3 579.3,1063.5 583.2,1066.6 C587.1,1069.7 591.2,1072.7 595.3,1075.5 C599.4,1078.4 603.7,1081.1 608.0,1083.7 C612.3,1086.3 616.7,1088.7 621.2,1091.0 C625.6,1093.4 630.1,1095.5 634.7,1097.6 C639.2,1099.6 643.8,1101.5 648.4,1103.3 C653.0,1105.0 657.6,1106.6 662.2,1108.1 C666.8,1109.5 673.7,1111.3 676.0,1112.0" fill="none" stroke="#978dbb" stroke-width="4.7" stroke-linecap="butt" stroke-linejoin="round" marker-end="url(#mDP)" stroke-dasharray="7.500 5.500" />
<path d="M493.0,651.0 C493.2,648.7 493.9,642.1 494.1,637.4 C494.3,632.7 494.4,627.7 494.2,622.8 C494.1,617.9 493.8,612.8 493.4,607.8 C492.9,602.8 492.2,597.7 491.3,592.8 C490.4,587.9 489.2,583.0 487.9,578.3 C486.5,573.7 484.9,569.1 483.0,564.8 C481.1,560.6 478.9,556.5 476.5,552.8 C474.0,549.0 471.3,545.5 468.4,542.2 C465.5,538.9 462.3,535.9 459.0,533.0 C455.6,530.1 452.1,527.5 448.3,525.0 C444.6,522.5 440.7,520.1 436.7,517.9 C432.7,515.7 428.5,513.7 424.2,511.7 C419.9,509.7 415.5,507.9 411.0,506.1 C406.6,504.3 402.0,502.6 397.4,500.9 C392.8,499.3 388.2,497.7 383.5,496.1 C378.9,494.5 374.1,492.9 369.5,491.3 C364.8,489.7 360.1,488.1 355.5,486.5 C350.9,484.8 346.3,483.1 341.8,481.4 C337.3,479.6 332.9,477.8 328.6,475.8 C324.2,473.8 320.0,471.8 315.9,469.6 C311.8,467.4 307.9,465.1 304.1,462.6 C300.3,460.1 296.7,457.4 293.2,454.6 C289.8,451.7 286.6,448.7 283.6,445.4 C280.6,442.1 277.8,438.6 275.3,434.8 C272.8,431.0 270.5,427.0 268.5,422.7 C266.6,418.5 264.9,414.0 263.6,409.4 C262.2,404.7 261.2,399.8 260.6,394.9 C260.0,389.9 260.1,382.1 260.0,379.5" fill="none" stroke="#8aa66c" stroke-width="5.8" stroke-linecap="round" stroke-linejoin="round" marker-end="url(#mG2)" />
<path d="M363.0,751.0 C360.6,751.6 353.2,753.2 348.5,754.6 C343.8,756.0 339.3,757.6 334.9,759.3 C330.4,761.1 326.1,763.0 322.0,765.0 C317.8,767.1 313.8,769.3 309.8,771.7 C305.9,774.1 302.1,776.6 298.5,779.3 C294.8,781.9 291.2,784.7 287.8,787.6 C284.3,790.6 281.0,793.6 277.8,796.8 C274.6,800.0 271.5,803.3 268.5,806.7 C265.5,810.1 262.6,813.6 259.8,817.3 C257.0,820.9 254.4,824.6 251.8,828.4 C249.2,832.2 246.7,836.2 244.3,840.1 C242.0,844.1 239.7,848.2 237.5,852.3 C235.3,856.5 233.2,860.7 231.2,865.0 C229.2,869.3 227.2,873.6 225.4,878.0 C223.6,882.4 221.8,886.9 220.1,891.3 C218.5,895.8 216.9,900.4 215.3,904.9 C213.8,909.5 212.4,914.1 211.0,918.7 C209.7,923.4 208.4,928.0 207.1,932.7 C205.9,937.4 204.8,942.1 203.7,946.7 C202.6,951.4 201.6,956.1 200.6,960.8 C199.7,965.5 198.8,970.3 197.9,975.0 C197.1,979.7 196.3,984.4 195.6,989.1 C194.8,993.9 194.2,998.6 193.6,1003.3 C192.9,1008.0 192.4,1012.7 191.9,1017.5 C191.4,1022.2 190.9,1026.9 190.5,1031.6 C190.0,1036.3 189.7,1041.0 189.3,1045.7 C189.0,1050.4 188.7,1055.1 188.4,1059.7 C188.2,1064.4 188.0,1069.0 187.8,1073.7 C187.6,1078.3 187.5,1083.0 187.3,1087.6 C187.2,1092.2 187.1,1096.8 187.1,1101.3 C187.0,1105.9 187.0,1112.7 187.0,1115.0" fill="none" stroke="#7fa670" stroke-width="5.8" stroke-linecap="round" stroke-linejoin="round" marker-end="url(#mG)" />
<path d="M427.0,783.0 C427.2,785.7 428.2,793.8 428.3,798.9 C428.4,804.1 428.1,809.0 427.6,813.8 C427.0,818.6 426.2,823.2 425.0,827.6 C423.9,832.1 422.5,836.4 420.8,840.5 C419.2,844.7 417.3,848.7 415.2,852.7 C413.0,856.6 410.7,860.3 408.1,864.0 C405.6,867.7 402.9,871.3 400.0,874.8 C397.1,878.3 394.0,881.6 390.8,885.0 C387.7,888.3 384.3,891.5 380.9,894.7 C377.5,897.9 373.9,901.0 370.3,904.1 C366.7,907.2 362.9,910.2 359.2,913.2 C355.4,916.2 351.6,919.2 347.8,922.1 C343.9,925.1 340.1,928.0 336.2,931.0 C332.4,933.9 328.5,936.9 324.7,939.8 C320.9,942.8 317.0,945.7 313.3,948.7 C309.5,951.7 305.8,954.7 302.1,957.8 C298.4,960.8 294.8,963.9 291.3,967.0 C287.8,970.2 284.3,973.3 280.9,976.6 C277.5,979.8 274.3,983.1 271.1,986.4 C267.9,989.8 264.9,993.2 262.0,996.7 C259.0,1000.2 256.2,1003.8 253.6,1007.5 C250.9,1011.2 248.4,1014.9 246.1,1018.8 C243.7,1022.7 241.6,1026.7 239.6,1030.8 C237.6,1034.8 235.8,1039.0 234.1,1043.4 C232.5,1047.7 231.1,1052.1 229.9,1056.7 C228.7,1061.2 227.6,1065.9 226.8,1070.6 C226.0,1075.3 225.3,1080.1 224.9,1085.0 C224.4,1089.9 224.2,1094.8 224.1,1099.8 C224.1,1104.8 224.5,1112.5 224.6,1115.0" fill="none" stroke="#7fa670" stroke-width="5.8" stroke-linecap="round" stroke-linejoin="round" marker-end="url(#mG)" />
<path d="M469.6,783.0 C469.6,785.2 469.6,791.9 469.5,796.4 C469.3,800.9 469.2,805.5 468.9,810.2 C468.7,814.8 468.4,819.6 468.0,824.3 C467.6,829.0 467.1,833.8 466.5,838.6 C466.0,843.4 465.3,848.2 464.6,853.0 C463.8,857.9 463.0,862.7 462.1,867.5 C461.1,872.3 460.1,877.1 458.9,881.8 C457.8,886.6 456.5,891.3 455.2,896.0 C453.8,900.6 452.3,905.3 450.7,909.8 C449.1,914.4 447.4,918.9 445.5,923.3 C443.7,927.7 441.7,932.1 439.6,936.3 C437.4,940.5 435.2,944.7 432.8,948.7 C430.4,952.7 427.8,956.6 425.1,960.4 C422.4,964.2 419.6,967.9 416.6,971.3 C413.5,974.8 410.4,978.2 407.0,981.4 C403.7,984.6 400.2,987.6 396.6,990.5 C393.0,993.4 389.2,996.2 385.3,998.8 C381.4,1001.4 377.4,1003.9 373.3,1006.3 C369.3,1008.7 365.0,1011.0 360.8,1013.2 C356.5,1015.4 352.2,1017.5 347.8,1019.5 C343.4,1021.5 339.0,1023.4 334.5,1025.3 C330.0,1027.2 325.5,1028.9 321.1,1030.8 C316.6,1032.7 312.2,1034.5 308.0,1036.6 C303.7,1038.7 299.5,1040.8 295.6,1043.2 C291.7,1045.6 287.9,1048.2 284.5,1051.0 C281.1,1053.9 277.8,1057.0 275.0,1060.3 C272.1,1063.7 269.6,1067.3 267.5,1071.2 C265.3,1075.1 263.5,1079.3 262.3,1083.9 C261.0,1088.4 260.1,1093.2 259.8,1098.4 C259.5,1103.6 260.4,1112.2 260.5,1115.0" fill="none" stroke="#7fa670" stroke-width="5.8" stroke-linecap="round" stroke-linejoin="round" marker-end="url(#mG)" />
<path d="M573.0,748.0 C575.4,748.6 582.7,750.1 587.4,751.4 C592.1,752.7 596.7,754.2 601.2,755.8 C605.7,757.5 610.1,759.2 614.4,761.1 C618.8,763.1 623.0,765.1 627.2,767.3 C631.3,769.5 635.4,771.8 639.3,774.3 C643.3,776.7 647.2,779.3 650.9,782.0 C654.7,784.7 658.4,787.6 662.0,790.5 C665.6,793.5 669.1,796.5 672.5,799.7 C676.0,802.8 679.3,806.1 682.5,809.4 C685.8,812.8 688.9,816.3 692.0,819.8 C695.0,823.3 698.0,827.0 700.8,830.7 C703.7,834.4 706.5,838.2 709.2,842.1 C711.9,846.0 714.5,849.9 717.0,853.9 C719.5,858.0 721.9,862.0 724.3,866.2 C726.6,870.3 728.9,874.5 731.0,878.8 C733.2,883.0 735.2,887.3 737.2,891.7 C739.2,896.0 741.1,900.4 742.9,904.9 C744.7,909.3 746.4,913.8 748.0,918.3 C749.7,922.8 751.2,927.4 752.7,931.9 C754.2,936.5 755.6,941.1 756.9,945.8 C758.2,950.4 759.4,955.1 760.6,959.8 C761.8,964.5 762.8,969.2 763.9,973.9 C764.9,978.6 765.8,983.4 766.7,988.1 C767.5,992.9 768.3,997.7 769.1,1002.4 C769.8,1007.2 770.5,1012.0 771.1,1016.8 C771.7,1021.6 772.2,1026.4 772.6,1031.2 C773.1,1035.9 773.5,1040.7 773.9,1045.5 C774.2,1050.3 774.5,1055.1 774.7,1059.8 C774.9,1064.6 775.1,1069.3 775.2,1074.0 C775.3,1078.8 775.3,1083.5 775.3,1088.2 C775.3,1092.9 775.3,1097.5 775.2,1102.2 C775.1,1106.8 774.8,1113.7 774.7,1116.0" fill="none" stroke="#e09a68" stroke-width="5.3" stroke-linecap="round" stroke-linejoin="round" marker-end="url(#mO)" />
<path d="M529.0,783.0 C529.1,785.6 529.2,793.6 529.8,798.6 C530.4,803.5 531.4,808.1 532.6,812.6 C533.9,817.0 535.5,821.2 537.4,825.2 C539.3,829.3 541.5,833.0 543.9,836.7 C546.3,840.3 549.0,843.7 551.8,847.1 C554.7,850.4 557.8,853.5 561.0,856.6 C564.3,859.6 567.7,862.5 571.3,865.3 C574.9,868.1 578.6,870.9 582.4,873.5 C586.2,876.2 590.1,878.8 594.1,881.3 C598.1,883.9 602.2,886.4 606.3,888.9 C610.4,891.4 614.5,893.8 618.6,896.4 C622.7,898.9 626.9,901.4 631.0,903.9 C635.0,906.5 639.1,909.0 643.1,911.7 C647.1,914.4 651.0,917.1 654.8,919.9 C658.6,922.8 662.3,925.7 665.9,928.7 C669.4,931.7 672.9,934.8 676.2,938.0 C679.6,941.2 682.8,944.5 685.9,947.9 C689.0,951.3 692.0,954.8 694.8,958.3 C697.7,961.9 700.4,965.5 703.0,969.3 C705.6,973.0 708.1,976.8 710.5,980.7 C712.8,984.5 715.0,988.5 717.1,992.5 C719.2,996.6 721.2,1000.7 723.0,1004.8 C724.8,1009.0 726.5,1013.2 728.0,1017.5 C729.5,1021.8 731.0,1026.2 732.2,1030.6 C733.5,1035.1 734.6,1039.5 735.6,1044.1 C736.5,1048.6 737.4,1053.2 738.1,1057.9 C738.7,1062.5 739.3,1067.2 739.7,1072.0 C740.0,1076.8 740.3,1081.6 740.4,1086.4 C740.4,1091.3 740.4,1096.2 740.1,1101.1 C739.9,1106.0 739.2,1113.5 739.0,1116.0" fill="none" stroke="#e09a68" stroke-width="5.3" stroke-linecap="round" stroke-linejoin="round" marker-end="url(#mO)" />
<path d="M510.0,783.0 C510.2,785.3 510.6,792.0 511.0,796.6 C511.4,801.1 511.8,805.8 512.3,810.5 C512.8,815.2 513.3,820.0 513.9,824.7 C514.5,829.5 515.2,834.3 515.9,839.1 C516.7,843.9 517.5,848.7 518.4,853.5 C519.3,858.3 520.3,863.1 521.4,867.9 C522.5,872.6 523.7,877.4 525.0,882.1 C526.3,886.7 527.7,891.4 529.3,895.9 C530.8,900.5 532.5,905.0 534.3,909.4 C536.1,913.9 538.0,918.2 540.1,922.4 C542.2,926.7 544.4,930.8 546.8,934.8 C549.2,938.8 551.7,942.7 554.5,946.4 C557.2,950.2 560.1,953.8 563.1,957.2 C566.2,960.6 569.4,963.9 572.9,967.0 C576.3,970.1 579.9,973.1 583.7,975.9 C587.4,978.7 591.3,981.4 595.3,984.0 C599.3,986.6 603.4,989.1 607.5,991.5 C611.6,994.0 615.9,996.4 620.0,998.7 C624.2,1001.1 628.5,1003.5 632.6,1005.9 C636.8,1008.3 641.0,1010.7 645.1,1013.2 C649.1,1015.7 653.2,1018.2 657.0,1020.9 C660.9,1023.5 664.7,1026.3 668.3,1029.2 C671.9,1032.1 675.4,1035.1 678.7,1038.3 C681.9,1041.5 685.0,1044.9 687.8,1048.5 C690.6,1052.1 693.2,1055.9 695.5,1059.9 C697.8,1063.9 699.9,1068.1 701.6,1072.5 C703.4,1076.8 704.9,1081.4 706.0,1086.1 C707.2,1090.8 708.0,1095.7 708.5,1100.7 C709.0,1105.6 708.9,1113.4 709.0,1116.0" fill="none" stroke="#e09a68" stroke-width="5.3" stroke-linecap="round" stroke-linejoin="round" marker-end="url(#mO)" />
<path d="M363.0,715.0 C360.4,715.4 352.6,716.2 347.7,717.3 C342.8,718.5 338.0,720.0 333.5,721.8 C329.0,723.6 324.6,725.8 320.5,728.2 C316.4,730.6 312.5,733.4 308.9,736.3 C305.2,739.2 301.7,742.5 298.5,745.9 C295.3,749.3 292.4,752.9 289.6,756.7 C286.9,760.5 284.4,764.5 282.2,768.5 C280.0,772.6 278.1,776.9 276.4,781.2 C274.7,785.5 273.3,789.9 272.2,794.4 C271.0,798.8 270.2,803.4 269.6,808.0 C269.0,812.5 268.6,817.1 268.5,821.7 C268.4,826.3 268.5,831.0 268.9,835.6 C269.2,840.1 269.8,844.7 270.6,849.2 C271.4,853.8 272.4,858.2 273.6,862.6 C274.8,867.0 276.2,871.3 277.8,875.6 C279.3,879.8 281.1,884.0 283.0,888.1 C284.9,892.3 287.0,896.3 289.2,900.3 C291.5,904.3 293.8,908.3 296.3,912.2 C298.8,916.1 301.4,919.9 304.1,923.7 C306.8,927.6 309.7,931.3 312.6,935.1 C315.5,938.8 318.5,942.5 321.6,946.2 C324.6,949.8 327.8,953.5 330.9,957.1 C334.1,960.7 337.4,964.3 340.6,967.9 C343.9,971.5 347.2,975.0 350.5,978.6 C353.9,982.2 357.2,985.7 360.5,989.2 C363.9,992.8 367.2,996.3 370.5,999.9 C373.8,1003.4 377.1,1007.0 380.4,1010.5 C383.6,1014.1 386.8,1017.7 390.0,1021.2 C393.2,1024.8 396.3,1028.4 399.5,1032.0 C402.6,1035.5 405.7,1039.1 408.8,1042.6 C411.9,1046.2 415.0,1049.7 418.1,1053.3 C421.2,1056.8 424.3,1060.3 427.4,1063.8 C430.5,1067.2 433.6,1070.7 436.7,1074.1 C439.8,1077.5 443.0,1080.9 446.1,1084.3 C449.3,1087.6 452.5,1091.0 455.7,1094.2 C459.0,1097.5 462.2,1100.7 465.5,1103.9 C468.9,1107.0 472.2,1110.1 475.6,1113.2 C479.1,1116.2 482.5,1119.2 486.1,1122.1 C489.6,1125.1 493.2,1127.9 496.9,1130.7 C500.6,1133.5 504.3,1136.2 508.2,1138.8 C512.0,1141.4 515.9,1144.0 519.9,1146.4 C523.9,1148.9 528.0,1151.2 532.2,1153.5 C536.3,1155.8 540.5,1158.0 544.8,1160.1 C549.1,1162.1 553.5,1164.1 557.9,1166.0 C562.2,1167.9 566.7,1169.7 571.2,1171.4 C575.7,1173.0 580.2,1174.6 584.7,1176.1 C589.3,1177.5 593.9,1178.9 598.5,1180.1 C603.1,1181.3 607.7,1182.5 612.3,1183.4 C617.0,1184.4 621.6,1185.3 626.3,1186.1 C630.9,1186.8 635.5,1187.4 640.2,1187.9 C644.8,1188.4 651.7,1188.8 654.0,1189.0" fill="none" stroke="#e09a68" stroke-width="5.3" stroke-linecap="round" stroke-linejoin="round" marker-end="url(#mO)" />
</g>
<rect x="137.8" y="500.0" width="126" height="62" rx="10" fill="#fdfdfd" filter="url(#blur2)"/><rect x="140.8" y="503.0" width="120" height="56" rx="8" fill="#fdfdfd"/><text x="200.8" y="524.6" font-size="22" font-weight="normal" fill="#1b1b1b" text-anchor="middle" textLength="56.8" lengthAdjust="spacingAndGlyphs"  style="stroke:#1b1b1b;stroke-width:0.35px">Sales</text><text x="200.8" y="551.3" font-size="22" font-weight="normal" fill="#1b1b1b" text-anchor="middle" textLength="108.4" lengthAdjust="spacingAndGlyphs"  style="stroke:#1b1b1b;stroke-width:0.35px">Questions</text>
<rect x="570.0" y="423.0" width="92" height="62" rx="10" fill="#fdfdfd" filter="url(#blur2)"/><rect x="573.0" y="426.0" width="86" height="56" rx="8" fill="#fdfdfd"/><text x="616" y="447.6" font-size="22" font-weight="normal" fill="#1b1b1b" text-anchor="middle" textLength="76" lengthAdjust="spacingAndGlyphs"  style="stroke:#1b1b1b;stroke-width:0.35px">Vendor</text><text x="616" y="474.5" font-size="22" font-weight="normal" fill="#1b1b1b" text-anchor="middle" textLength="68" lengthAdjust="spacingAndGlyphs"  style="stroke:#1b1b1b;stroke-width:0.35px">Issues</text>
<rect x="693.5" y="504.0" width="124" height="62" rx="10" fill="#fdfdfd" filter="url(#blur2)"/><rect x="696.5" y="507.0" width="118" height="56" rx="8" fill="#fdfdfd"/><text x="755.5" y="529" font-size="22" font-weight="normal" fill="#1b1b1b" text-anchor="middle" textLength="94.5" lengthAdjust="spacingAndGlyphs"  style="stroke:#1b1b1b;stroke-width:0.35px">Contract</text><text x="755.5" y="555.8" font-size="22" font-weight="normal" fill="#1b1b1b" text-anchor="middle" textLength="109" lengthAdjust="spacingAndGlyphs"  style="stroke:#1b1b1b;stroke-width:0.35px">Questions</text>
<rect x="147.1" y="892.5" width="111" height="62" rx="10" fill="#fdfdfd" filter="url(#blur2)"/><rect x="150.1" y="895.5" width="105" height="56" rx="8" fill="#fdfdfd"/><text x="202.6" y="917.1" font-size="22" font-weight="normal" fill="#1b1b1b" text-anchor="middle" textLength="86.7" lengthAdjust="spacingAndGlyphs"  style="stroke:#1b1b1b;stroke-width:0.35px">Support</text><text x="202.6" y="944.5" font-size="22" font-weight="normal" fill="#1b1b1b" text-anchor="middle" textLength="91.8" lengthAdjust="spacingAndGlyphs"  style="stroke:#1b1b1b;stroke-width:0.35px">Inquiries</text>
<rect x="711.1" y="883.0" width="85" height="62" rx="10" fill="#fdfdfd" filter="url(#blur2)"/><rect x="714.1" y="886.0" width="79" height="56" rx="8" fill="#fdfdfd"/><text x="753.6" y="909" font-size="22" font-weight="normal" fill="#1b1b1b" text-anchor="middle" textLength="63.4" lengthAdjust="spacingAndGlyphs"  style="stroke:#1b1b1b;stroke-width:0.35px">Billing</text><text x="753.6" y="935.6" font-size="22" font-weight="normal" fill="#1b1b1b" text-anchor="middle" textLength="52.4" lengthAdjust="spacingAndGlyphs"  style="stroke:#1b1b1b;stroke-width:0.35px">Error</text>
<rect x="601.3" y="1000.0" width="118" height="64" rx="10" fill="#fdfdfd" filter="url(#blur2)"/><rect x="604.3" y="1003.0" width="112" height="58" rx="8" fill="#fdfdfd"/><text x="661.5" y="1024.9" font-size="22" font-weight="normal" fill="#1b1b1b" text-anchor="middle" textLength="85.1" lengthAdjust="spacingAndGlyphs"  style="stroke:#1b1b1b;stroke-width:0.35px">Product</text><text x="661.5" y="1052" font-size="22" font-weight="normal" fill="#1b1b1b" text-anchor="middle" textLength="104.7" lengthAdjust="spacingAndGlyphs"  style="stroke:#1b1b1b;stroke-width:0.35px">Feedback</text>
<g transform="translate(547.7,452) scale(1.0)"><path d="M0,-13 L16,13 L-16,13 Z" fill="#cf4440" stroke="#cf4440" stroke-width="6.5" stroke-linejoin="round"/><rect x="-2" y="-8" width="4" height="12.500" rx="1.2" fill="#fbeeee"/><rect x="-2" y="7" width="4" height="4" rx="1" fill="#fbeeee"/></g>
<g transform="translate(670.4,535) scale(1.0)"><path d="M0,-13 L16,13 L-16,13 Z" fill="#cf4440" stroke="#cf4440" stroke-width="6.5" stroke-linejoin="round"/><rect x="-2" y="-8" width="4" height="12.500" rx="1.2" fill="#fbeeee"/><rect x="-2" y="7" width="4" height="4" rx="1" fill="#fbeeee"/></g>
<g transform="translate(339,966) scale(0.95)"><path d="M0,-13 L16,13 L-16,13 Z" fill="#cf4440" stroke="#cf4440" stroke-width="6.5" stroke-linejoin="round"/><rect x="-2" y="-8" width="4" height="12.500" rx="1.2" fill="#fbeeee"/><rect x="-2" y="7" width="4" height="4" rx="1" fill="#fbeeee"/></g>
<g transform="translate(235,786)"><circle r="18" fill="#c9403f"/><path d="M-6.5,-6.5 L6.5,6.5 M6.5,-6.5 L-6.5,6.5" stroke="#fff" stroke-width="3.2" stroke-linecap="round"/></g>
<g transform="translate(655.8,583.3)"><circle r="18" fill="#c9403f"/><path d="M-6.5,-6.5 L6.5,6.5 M6.5,-6.5 L-6.5,6.5" stroke="#fff" stroke-width="3.2" stroke-linecap="round"/></g>
<g transform="translate(491.9,1129)"><circle r="18" fill="#c9403f"/><path d="M-6.5,-6.5 L6.5,6.5 M6.5,-6.5 L-6.5,6.5" stroke="#fff" stroke-width="3.2" stroke-linecap="round"/></g>
<path d="M606,726 C612,718 624,718 630,727 C624,733 612,733 606,726Z" fill="#4a90c8"/>
<path d="M551,1028 C558,1026 562,1036 560,1043 C553,1044 547,1038 551,1028Z" fill="#c94052"/>
<rect x="84.5" y="254" width="219" height="109" rx="13" fill="#dbe8ee" stroke="#5c8ba7" stroke-width="5" filter="url(#sh2)"/><rect x="88.0" y="257.5" width="212" height="102" rx="9.500" fill="none" stroke="#ffffff" stroke-opacity="0.4" stroke-width="2"/><text x="194.0" y="301.9" font-size="27.5" font-weight="normal" fill="#1d1d1d" text-anchor="middle" textLength="161" lengthAdjust="spacingAndGlyphs"  style="stroke:#1d1d1d;stroke-width:0.85px">Engineering</text><text x="194.0" y="334.9" font-size="27.5" font-weight="normal" fill="#1d1d1d" text-anchor="middle" textLength="72" lengthAdjust="spacingAndGlyphs"  style="stroke:#1d1d1d;stroke-width:0.85px">Team</text>
<rect x="658" y="254" width="219" height="109" rx="13" fill="#e4e0ee" stroke="#8f7db3" stroke-width="5" filter="url(#sh2)"/><rect x="661.5" y="257.5" width="212" height="102" rx="9.500" fill="none" stroke="#ffffff" stroke-opacity="0.4" stroke-width="2"/><text x="767.5" y="301.9" font-size="27.5" font-weight="normal" fill="#1d1d1d" text-anchor="middle" textLength="131" lengthAdjust="spacingAndGlyphs"  style="stroke:#1d1d1d;stroke-width:0.85px">Executive</text><text x="767.5" y="334.9" font-size="27.5" font-weight="normal" fill="#1d1d1d" text-anchor="middle" textLength="73" lengthAdjust="spacingAndGlyphs"  style="stroke:#1d1d1d;stroke-width:0.85px">Inbox</text>
<rect x="84.5" y="1133.5" width="207" height="109" rx="13" fill="#dce8d8" stroke="#7ea56f" stroke-width="5" filter="url(#sh2)"/><rect x="88.0" y="1137.0" width="200" height="102" rx="9.500" fill="none" stroke="#ffffff" stroke-opacity="0.4" stroke-width="2"/><text x="188.0" y="1181.4" font-size="27.5" font-weight="normal" fill="#1d1d1d" text-anchor="middle" textLength="71" lengthAdjust="spacingAndGlyphs"  style="stroke:#1d1d1d;stroke-width:0.85px">Sales</text><text x="188.0" y="1214.4" font-size="27.5" font-weight="normal" fill="#1d1d1d" text-anchor="middle" textLength="72" lengthAdjust="spacingAndGlyphs"  style="stroke:#1d1d1d;stroke-width:0.85px">Team</text>
<rect x="669" y="1133.5" width="208" height="109" rx="13" fill="#fae6d6" stroke="#e09a68" stroke-width="5" filter="url(#sh2)"/><rect x="672.5" y="1137.0" width="201" height="102" rx="9.500" fill="none" stroke="#ffffff" stroke-opacity="0.4" stroke-width="2"/><text x="773.0" y="1181.4" font-size="27.5" font-weight="normal" fill="#1d1d1d" text-anchor="middle" textLength="108" lengthAdjust="spacingAndGlyphs"  style="stroke:#1d1d1d;stroke-width:0.85px">Support</text><text x="773.0" y="1214.4" font-size="27.5" font-weight="normal" fill="#1d1d1d" text-anchor="middle" textLength="72" lengthAdjust="spacingAndGlyphs"  style="stroke:#1d1d1d;stroke-width:0.85px">Team</text>
<rect x="357.600" y="644.500" width="222" height="144" rx="18" fill="#fcf7f4" filter="url(#sh2)"/>
<rect x="363" y="649.700" width="211.300" height="133.300" rx="13.500" fill="#e5856e"/>
<text x="468.4" y="709.8" font-size="27.5" font-weight="normal" fill="#fdf1ec" text-anchor="middle" textLength="124" lengthAdjust="spacingAndGlyphs"  style="stroke:#fdf1ec;stroke-width:0.9px">Incoming</text>
<text x="468" y="743" font-size="27.5" font-weight="normal" fill="#fdf1ec" text-anchor="middle" textLength="70.5" lengthAdjust="spacingAndGlyphs"  style="stroke:#fdf1ec;stroke-width:0.9px">Email</text>
<rect x="1079" y="501" width="247" height="791" rx="26" filter="url(#blur1)" fill="#d9e8eb"/>
<rect x="1342" y="501" width="247" height="791" rx="26" filter="url(#blur1)" fill="#dfe2ec"/>
<rect x="1605" y="501" width="247" height="791" rx="26" filter="url(#blur1)" fill="#e5e9e5"/>
<path d="M771,632 L982,632 L982,573 L1122,716 L982,859 L982,801 L771,801 L829,716 Z" fill="#fbfcfc" stroke="#fbfcfc" stroke-width="10.5" stroke-linejoin="miter" filter="url(#sh)"/>
<path d="M771,632 L982,632 L982,573 L1122,716 L982,859 L982,801 L771,801 L829,716 Z" fill="url(#arrowg)"/>
<text x="952" y="709" font-size="28" font-weight="bold" fill="#fbf3ef" text-anchor="middle" textLength="200" lengthAdjust="spacingAndGlyphs"  style="stroke:#fbf3ef;stroke-width:0.5px">STRUCTURED</text>
<text x="952" y="745" font-size="28" font-weight="bold" fill="#fbf3ef" text-anchor="middle" textLength="134" lengthAdjust="spacingAndGlyphs"  style="stroke:#fbf3ef;stroke-width:0.5px">ROUTING</text>
<g fill="none" stroke="#2b6b76" stroke-width="5.9" stroke-linecap="round" stroke-linejoin="round"><path d="M1409,263 Q1409,260 1410.500,257 L1426.500,224 Q1429.500,218 1436.500,218 L1494.500,218 Q1501.500,218 1504.500,224 L1521,257 Q1522.500,260 1522.500,263 L1522.500,289 Q1522.500,299 1512.500,299 L1419,299 Q1409,299 1409,289 Z"/><path d="M1409,259.600 L1437,259.600 Q1442,259.600 1444.500,264 Q1451,277.300 1465.500,277.300 Q1480,277.300 1486.500,264 Q1489,259.600 1494,259.600 L1522.500,259.600"/></g>
<text x="1465" y="338.8" font-size="27.5" font-weight="normal" fill="#1c1c1c" text-anchor="middle" textLength="203" lengthAdjust="spacingAndGlyphs"  style="stroke:#1c1c1c;stroke-width:1.0px">Incoming Email</text>
<text x="1465.3" y="372.5" font-size="27.5" font-weight="normal" fill="#1c1c1c" text-anchor="middle" textLength="115.5" lengthAdjust="spacingAndGlyphs"  style="stroke:#1c1c1c;stroke-width:1.0px">Gateway</text>
<g fill="none" stroke="#2b6b76" stroke-width="5.5" stroke-linecap="round" stroke-linejoin="round"><path d="M1465,391 L1465,510.500" marker-end="url(#mT)"/><path d="M1465,415 Q1465,441.500 1440,441.500 L1224,441.500 Q1202,441.500 1202,464 L1202,510.500" marker-end="url(#mT)"/><path d="M1465,415 Q1465,441.500 1490,441.500 L1706,441.500 Q1728,441.500 1728,464 L1728,510.500" marker-end="url(#mT)"/></g>
<rect x="1101" y="527" width="202" height="101" rx="19" fill="#f3f8f9" filter="url(#sh)"/>
<rect x="1104.5" y="530.5" width="195" height="94" rx="16" fill="url(#tealg)"/>
<text x="1202" y="571" font-size="21" font-weight="bold" fill="#f4f8f8" text-anchor="middle" textLength="126" lengthAdjust="spacingAndGlyphs"  style="">CUSTOMER</text>
<text x="1202" y="597" font-size="21" font-weight="bold" fill="#f4f8f8" text-anchor="middle" textLength="111" lengthAdjust="spacingAndGlyphs"  style="">INQUIRIES</text>
<g fill="none" stroke="#2b6b76" stroke-width="5.5" stroke-linecap="round"><path d="M1202,640 L1202,777" marker-end="url(#mT)"/><path d="M1202,852 L1202,932" marker-end="url(#mT)"/><path d="M1202,1073 L1202,1152" marker-end="url(#mT)"/></g>
<rect x="1090.5" y="793.5" width="223" height="43" rx="21.5" fill="#e6f0f3" stroke="#2b6b76" stroke-width="3"/>
<text x="1202" y="821" font-size="17.5" font-weight="normal" fill="#1d1d1d" text-anchor="middle" textLength="200" lengthAdjust="spacingAndGlyphs"  style="stroke:#1d1d1d;stroke-width:0.4px">support@company.com</text>
<text x="1202" y="963.6" font-size="19.5" font-weight="normal" fill="#1d1d1d" text-anchor="middle" textLength="176.5" lengthAdjust="spacingAndGlyphs"  style="stroke:#1d1d1d;stroke-width:0.45px">Role-Based Triage:</text>
<text x="1202" y="987.6" font-size="19.5" font-weight="normal" fill="#1d1d1d" text-anchor="middle" textLength="163" lengthAdjust="spacingAndGlyphs"  style="stroke:#1d1d1d;stroke-width:0.45px">3-person rotation</text>
<rect x="1100.5" y="1164" width="203" height="102" rx="19" fill="#f3f8f9" filter="url(#sh)"/>
<rect x="1104.5" y="1168" width="195" height="94" rx="15" fill="url(#tealg)"/>
<circle cx="1138.5" cy="1214.5" r="18" fill="#fbfdfd"/>
<path d="M1130,1214.5 l6,6.5 l11.500,-12.500" fill="none" stroke="#1f525b" stroke-width="3.3" stroke-linecap="round" stroke-linejoin="round"/>
<text x="1169" y="1207.5" font-size="28" font-weight="normal" fill="#f6fafa" text-anchor="start" textLength="108" lengthAdjust="spacingAndGlyphs"  style="stroke:#f6fafa;stroke-width:0.8px">Support</text>
<text x="1170" y="1241.5" font-size="28" font-weight="normal" fill="#f6fafa" text-anchor="start" textLength="72" lengthAdjust="spacingAndGlyphs"  style="stroke:#f6fafa;stroke-width:0.8px">Team</text>
<rect x="1364" y="527" width="202" height="101" rx="19" fill="#f3f8f9" filter="url(#sh)"/>
<rect x="1367.5" y="530.5" width="195" height="94" rx="16" fill="url(#slateg)"/>
<text x="1465" y="571" font-size="21" font-weight="bold" fill="#f4f8f8" text-anchor="middle" textLength="114" lengthAdjust="spacingAndGlyphs"  style="">VENDOR &amp;</text>
<text x="1465" y="597" font-size="21" font-weight="bold" fill="#f4f8f8" text-anchor="middle" textLength="98" lengthAdjust="spacingAndGlyphs"  style="">FINANCE</text>
<g fill="none" stroke="#4f7389" stroke-width="5.5" stroke-linecap="round"><path d="M1465,640 L1465,777" marker-end="url(#mSL)"/><path d="M1465,852 L1465,932" marker-end="url(#mSL)"/><path d="M1465,1073 L1465,1152" marker-end="url(#mSL)"/></g>
<rect x="1353.5" y="793.5" width="223" height="43" rx="21.5" fill="#eceef4" stroke="#4f7389" stroke-width="3"/>
<text x="1465" y="821" font-size="17.5" font-weight="normal" fill="#1d1d1d" text-anchor="middle" textLength="185" lengthAdjust="spacingAndGlyphs"  style="stroke:#1d1d1d;stroke-width:0.4px">billing@company.com</text>
<text x="1465" y="963.6" font-size="19.5" font-weight="normal" fill="#1d1d1d" text-anchor="middle" textLength="112" lengthAdjust="spacingAndGlyphs"  style="stroke:#1d1d1d;stroke-width:0.45px">Assigned to</text>
<text x="1465" y="987.6" font-size="19.5" font-weight="normal" fill="#1d1d1d" text-anchor="middle" textLength="74" lengthAdjust="spacingAndGlyphs"  style="stroke:#1d1d1d;stroke-width:0.45px">Finance</text>
<rect x="1363.5" y="1164" width="203" height="102" rx="19" fill="#f3f8f9" filter="url(#sh)"/>
<rect x="1367.5" y="1168" width="195" height="94" rx="15" fill="url(#slateg)"/>
<circle cx="1401.5" cy="1214.5" r="18" fill="#fbfdfd"/>
<path d="M1393,1214.5 l6,6.5 l11.500,-12.500" fill="none" stroke="#3f5c72" stroke-width="3.3" stroke-linecap="round" stroke-linejoin="round"/>
<text x="1432" y="1207.5" font-size="28" font-weight="normal" fill="#f6fafa" text-anchor="start" textLength="106" lengthAdjust="spacingAndGlyphs"  style="stroke:#f6fafa;stroke-width:0.8px">Finance</text>
<text x="1433" y="1241.5" font-size="28" font-weight="normal" fill="#f6fafa" text-anchor="start" textLength="72" lengthAdjust="spacingAndGlyphs"  style="stroke:#f6fafa;stroke-width:0.8px">Team</text>
<rect x="1627" y="527" width="202" height="101" rx="19" fill="#f3f8f9" filter="url(#sh)"/>
<rect x="1630.5" y="530.5" width="195" height="94" rx="16" fill="url(#oliveg)"/>
<text x="1728" y="571" font-size="21" font-weight="bold" fill="#f4f8f8" text-anchor="middle" textLength="52" lengthAdjust="spacingAndGlyphs"  style="">HR &amp;</text>
<text x="1728" y="597" font-size="21" font-weight="bold" fill="#f4f8f8" text-anchor="middle" textLength="86" lengthAdjust="spacingAndGlyphs"  style="">PEOPLE</text>
<g fill="none" stroke="#7e906e" stroke-width="5.5" stroke-linecap="round"><path d="M1728,640 L1728,777" marker-end="url(#mOL)"/><path d="M1728,852 L1728,932" marker-end="url(#mOL)"/><path d="M1728,1073 L1728,1152" marker-end="url(#mOL)"/></g>
<rect x="1616.5" y="793.5" width="223" height="43" rx="21.5" fill="#eef0ed" stroke="#7e906e" stroke-width="3"/>
<text x="1728" y="821" font-size="17.5" font-weight="normal" fill="#1d1d1d" text-anchor="middle" textLength="192" lengthAdjust="spacingAndGlyphs"  style="stroke:#1d1d1d;stroke-width:0.4px">people@company.com</text>
<text x="1728" y="963.6" font-size="19.5" font-weight="normal" fill="#1d1d1d" text-anchor="middle" textLength="106" lengthAdjust="spacingAndGlyphs"  style="stroke:#1d1d1d;stroke-width:0.45px">Handled by</text>
<text x="1728" y="987.6" font-size="19.5" font-weight="normal" fill="#1d1d1d" text-anchor="middle" textLength="107" lengthAdjust="spacingAndGlyphs"  style="stroke:#1d1d1d;stroke-width:0.45px">People Ops</text>
<rect x="1626.5" y="1164" width="203" height="102" rx="19" fill="#f3f8f9" filter="url(#sh)"/>
<rect x="1630.5" y="1168" width="195" height="94" rx="15" fill="url(#oliveg)"/>
<circle cx="1664.5" cy="1214.5" r="18" fill="#fbfdfd"/>
<path d="M1656,1214.5 l6,6.5 l11.500,-12.500" fill="none" stroke="#66785a" stroke-width="3.3" stroke-linecap="round" stroke-linejoin="round"/>
<text x="1695" y="1207.5" font-size="28" font-weight="normal" fill="#f6fafa" text-anchor="start" textLength="92" lengthAdjust="spacingAndGlyphs"  style="stroke:#f6fafa;stroke-width:0.8px">People</text>
<text x="1696" y="1241.5" font-size="28" font-weight="normal" fill="#f6fafa" text-anchor="start" textLength="72" lengthAdjust="spacingAndGlyphs"  style="stroke:#f6fafa;stroke-width:0.8px">Team</text>
<circle cx="1155.5" cy="1030" r="27.400000000000002" fill="none"/><g fill="none" stroke="#2b6b76" stroke-width="4.2" stroke-linecap="round"><circle cx="1155.5" cy="1030" r="25.3"/><circle cx="1155.5" cy="1023.5" r="7.600"/><path d="M1139.0,1048.5 Q1142.5,1037.5 1155.5,1037.5 Q1168.5,1037.5 1172.0,1048.5"/></g>
<circle cx="1201.7" cy="1030" r="27.25" fill="#d9e8eb"/><g fill="none" stroke="#5a7e90" stroke-width="3.9" stroke-linecap="round"><circle cx="1201.7" cy="1030" r="25.3"/><circle cx="1201.7" cy="1023.5" r="7.600"/><path d="M1185.2,1048.5 Q1188.7,1037.5 1201.7,1037.5 Q1214.7,1037.5 1218.2,1048.5"/></g>
<circle cx="1249.5" cy="1030" r="27.0" fill="#d9e8eb"/><g fill="none" stroke="#8a9b6e" stroke-width="3.4" stroke-linecap="round"><circle cx="1249.5" cy="1030" r="25.3"/><circle cx="1249.5" cy="1023.5" r="7.600"/><path d="M1233.0,1048.5 Q1236.5,1037.5 1249.5,1037.5 Q1262.5,1037.5 1266.0,1048.5"/></g>
<circle cx="1465" cy="1030" r="27.1" fill="none"/><g fill="none" stroke="#4f7389" stroke-width="3.6" stroke-linecap="round"><circle cx="1465" cy="1030" r="25.3"/><circle cx="1465" cy="1023.5" r="7.600"/><path d="M1448.5,1048.5 Q1452,1037.5 1465,1037.5 Q1478,1037.5 1481.5,1048.5"/></g>
<circle cx="1728" cy="1030" r="27.1" fill="none"/><g fill="none" stroke="#7e906e" stroke-width="3.6" stroke-linecap="round"><circle cx="1728" cy="1030" r="25.3"/><circle cx="1728" cy="1023.5" r="7.600"/><path d="M1711.5,1048.5 Q1715,1037.5 1728,1037.5 Q1741,1037.5 1744.5,1048.5"/></g>
<path d="M1337,1329 C1344,1334 1350,1336 1357,1337 L1357,1352 C1357,1365 1348,1373 1337,1378 C1326,1373 1317,1365 1317,1352 L1317,1337 C1324,1336 1330,1334 1337,1329 Z" fill="#2b6b76"/>
<rect x="1329" y="1350" width="16" height="13" rx="2" fill="#f4f8f8"/><path d="M1332.500,1350 v-4 a4.500,4.500 0 0 1 9,0 v4" fill="none" stroke="#f4f8f8" stroke-width="2.4"/>
<text x="1370" y="1360" font-size="19.5" font-weight="normal" fill="#4a5358" text-anchor="start" textLength="259" lengthAdjust="spacingAndGlyphs"  style="font-style:italic">Executive Inboxes Protected</text>
</svg>
</body></html>
